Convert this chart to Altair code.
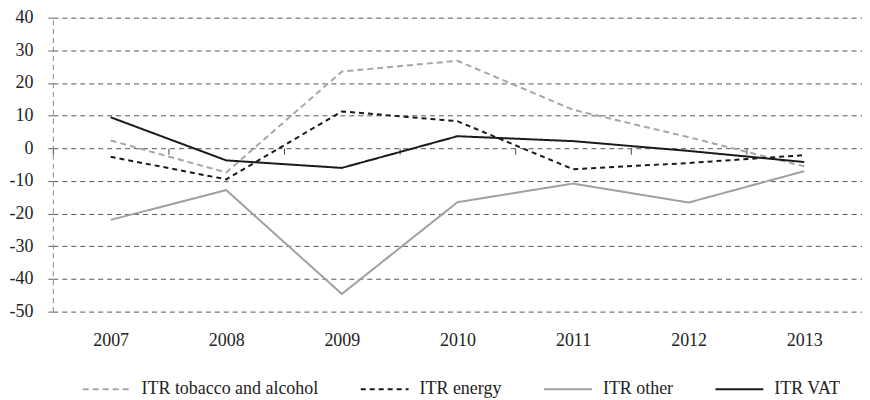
import altair as alt
import pandas as pd

years = ["2007", "2008", "2009", "2010", "2011", "2012", "2013"]
series_names = ["ITR tobacco and alcohol", "ITR energy", "ITR other", "ITR VAT"]
tobacco = [2.4, -7.4, 23.5, 26.8, 11.8, 3.4, -5.5]
energy = [-2.6, -9.5, 11.3, 8.3, -6.4, -4.5, -2.1]
other = [-21.9, -12.8, -44.6, -16.5, -10.8, -16.6, -7.0]
vat = [9.5, -3.7, -6.0, 3.7, 2.2, -0.8, -4.2]

rows = []
for name, vals in zip(series_names, [tobacco, energy, other, vat]):
    for y, v in zip(years, vals):
        rows.append({"year": y, "series": name, "value": v})
df = pd.DataFrame(rows)

FONT = "Liberation Serif, Times New Roman, serif"
FS = 18

lines = alt.Chart(df).mark_line(strokeWidth=2).encode(
    x=alt.X("year:O", scale=alt.Scale(type="point", padding=0.5),
            axis=alt.Axis(title=None, labelAngle=0, domain=False, ticks=False, grid=False,
                          labelFont=FONT, labelFontSize=FS, labelColor="#222",
                          labelPadding=20)),
    y=alt.Y("value:Q", scale=alt.Scale(domain=[-50, 40], nice=False),
            axis=alt.Axis(title=None, values=list(range(-50, 41, 10)),
                          labelExpr="datum.value < 0 ? '-' + abs(datum.value) : '' + datum.value",
                          labelFont=FONT, labelFontSize=FS, labelColor="#222",
                          labelPadding=11, tickSize=9, tickColor="#666", tickDash=[5, 4],
                          domainColor="#888", domainDash=[5, 4], domainWidth=1,
                          grid=True, gridColor="#555", gridDash=[5, 4], gridWidth=1)),
    color=alt.Color("series:N", sort=series_names,
                    scale=alt.Scale(domain=series_names,
                                    range=["#a6a6a6", "#1a1a1a", "#a0a0a0", "#1a1a1a"]),
                    legend=alt.Legend(title=None, orient="none", direction="horizontal",
                                      legendX=29, legendY=348, symbolType="stroke",
                                      symbolSize=2304, symbolStrokeWidth=2,
                                      labelFont=FONT, labelFontSize=FS, labelColor="#222",
                                      labelLimit=400,
                                      columnPadding=38, labelOffset=10, padding=0)),
    strokeDash=alt.StrokeDash("series:N", sort=series_names,
                              scale=alt.Scale(domain=series_names,
                                              range=[[6, 4], [5, 4], [1, 0], [1, 0]]),
                              legend=None),
)

# invisible layer that carries the category-boundary ticks of the axis crossing at zero
zero_axis = alt.Chart(df).mark_point(opacity=0).encode(
    x=alt.X("year:N", scale=alt.Scale(type="band", paddingInner=0, paddingOuter=0),
            axis=alt.Axis(title=None, orient="bottom", offset=-164, labels=False,
                          domain=False, grid=False, ticks=True, bandPosition=0,
                          tickSize=6, tickColor="#444", tickWidth=1)),
)

chart = alt.layer(lines, zero_axis).resolve_scale(x="independent").properties(
    width=812, height=295,
    autosize=alt.AutoSizeParams(type="none"),
    padding={"left": 45, "top": 9, "right": 0, "bottom": 88},
).configure_view(stroke=None)

chart.save("out.html", embed_options={"renderer": "svg", "actions": False})
